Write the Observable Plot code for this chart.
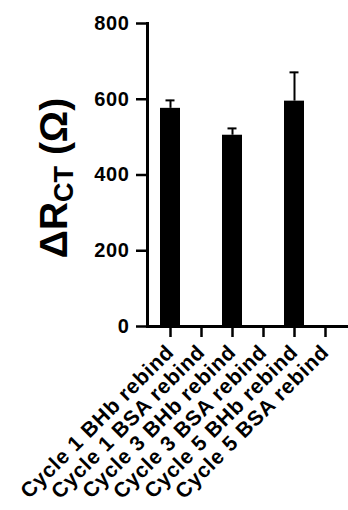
<!DOCTYPE html>
<html><head><meta charset="utf-8">
<script src="https://cdn.jsdelivr.net/npm/d3@7"></script>
<script src="https://cdn.jsdelivr.net/npm/@observablehq/plot@0.6"></script>
<style>
body{margin:0;background:#fff;}
svg{font-family:Arial,"Liberation Sans",sans-serif;}
g[aria-label="x-axis tick label"] text{letter-spacing:0.8px;}
g[aria-label="y-axis tick label"] text{letter-spacing:0.6px;}
</style></head><body><div id="chart"></div>
<script>
const categories = ["Cycle 1 BHb rebind","Cycle 1 BSA rebind","Cycle 3 BHb rebind","Cycle 3 BSA rebind","Cycle 5 BHb rebind","Cycle 5 BSA rebind"];
const values = [576, 0, 505, 0, 595, 0];
const errors = [21, 0, 18, 0, 76, 0];
const yTicks = [0, 200, 400, 600, 800];

const data = categories.map((c, i) => ({cat: c, v: values[i], e: errors[i]}));
const withErr = data.filter(d => d.e > 0);

const plot = Plot.plot({
  width: 348, height: 510,
  marginLeft: 147, marginRight: 0, marginTop: 23, marginBottom: 184,
  style: {fontFamily: 'Arial,"Liberation Sans",sans-serif', background: "#fff"},
  x: {domain: categories, padding: 0.34, label: null},
  y: {domain: [0, 800], label: null},
  marks: [
    Plot.barY(data, {x: "cat", y: "v", fill: "#000"}),
    Plot.ruleX(withErr, {x: "cat", y1: "v", y2: d => d.v + d.e, stroke: "#000", strokeWidth: 2}),
    Plot.tickY(withErr, {x: "cat", y: d => d.v + d.e, stroke: "#000", strokeWidth: 2, inset: 5.5}),
    Plot.frame({anchor: "left", stroke: "#000", strokeWidth: 3}),
    Plot.ruleY([0], {stroke: "#000", strokeWidth: 3}),
    Plot.axisY({ticks: yTicks, tickSize: 11, tickPadding: 7, fontSize: 20, fontWeight: "bold", strokeWidth: 2.5, stroke: "#000", fill: "#000", label: null}),
    Plot.axisX({tickSize: 11, tickPadding: 11, tickRotate: -45, fontSize: 21, fontWeight: "bold", strokeWidth: 2.5, stroke: "#000", fill: "#000", label: null})
  ]
});
document.getElementById("chart").appendChild(plot);

// Y-axis title with subscript
const svg = d3.select(plot);
const t = svg.append("text")
  .attr("transform", "translate(67,178) rotate(-90)")
  .attr("text-anchor", "middle")
  .attr("font-size", 39)
  .attr("font-weight", "bold")
  .attr("fill", "#000");
t.append("tspan").text("ΔR");
t.append("tspan").attr("font-size", 27).attr("dy", 6).text("CT");
t.append("tspan").attr("dy", -6).text(" (Ω)");
</script></body></html>
